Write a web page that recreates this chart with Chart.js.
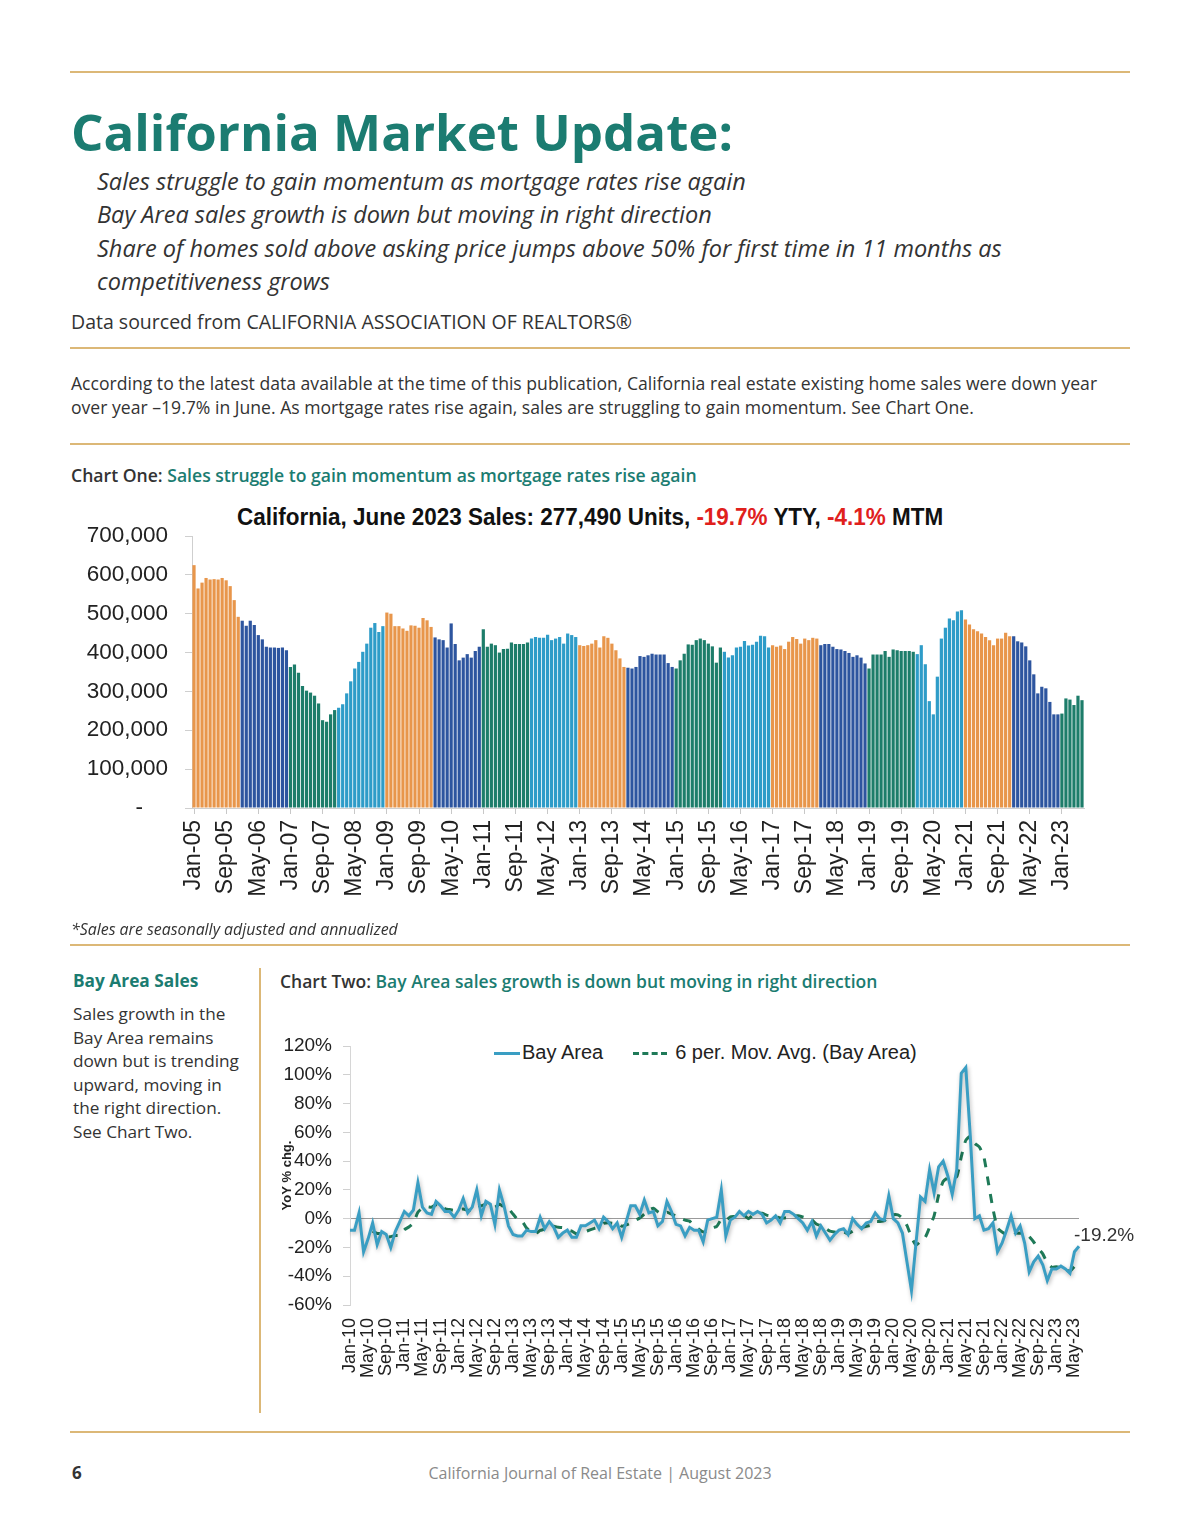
<!DOCTYPE html>
<html>
<head>
<meta charset="utf-8">
<script src="https://cdn.jsdelivr.net/npm/chart.js@4.4.0/dist/chart.umd.min.js"></script>
<style>
  body { margin: 0; width: 1200px; height: 1535px; position: relative; background: #fff;
         font-family: "Open Sans", sans-serif; color: #333; overflow: hidden; }
  .rule { position: absolute; left: 70px; width: 1060px; height: 0; border-top: 2px solid #dcb877; }
  .abs { position: absolute; white-space: nowrap; }
  .teal { color: #1b7c71; }
  .title { left: 71px; top: 101px; font-size: 51px; line-height: 60px; font-weight: 700; color: #1b7c71; }
  .subs { left: 97px; top: 165px; font-size: 23.5px; line-height: 33.3px; font-style: italic; color: #333; }
  .chartbox { position: absolute; }
  .ctitle { position: absolute; left: 237px; top: 503px; font-family: "Liberation Sans", sans-serif; font-weight: 700;
            font-size: 23px; line-height: 28px; color: #111; transform-origin: 0 0; white-space: nowrap; }
  .red { color: #e0201c; }
  .legend { position: absolute; left: 494px; top: 1040px; font-family: "Liberation Sans", sans-serif; font-size: 20px;
            line-height: 24px; color: #222; white-space: nowrap; }
  .sw { display: inline-block; width: 26px; height: 0; vertical-align: middle; margin-right: 2px; }
</style>
</head>
<body>
<div class="rule" style="top:71px"></div>
<div class="abs title">California Market Update:</div>
<div class="abs subs">Sales struggle to gain momentum as mortgage rates rise again<br>Bay Area sales growth is down but moving in right direction<br>Share of homes sold above asking price jumps above 50% for first time in 11 months as<br>competitiveness grows</div>
<div class="abs" style="left:71px;top:309px;font-size:19.5px;line-height:26px">Data sourced from CALIFORNIA ASSOCIATION OF REALTORS®</div>
<div class="rule" style="top:347px"></div>
<div class="abs" style="left:71px;top:371px;font-size:17.6px;line-height:24px">According to the latest data available at the time of this publication, California real estate existing home sales were down year<br>over year –19.7% in June. As mortgage rates rise again, sales are struggling to gain momentum. See Chart One.</div>
<div class="rule" style="top:443px"></div>
<div class="abs" style="left:71px;top:463px;font-size:17.6px;line-height:24px;font-weight:600">Chart One: <span class="teal">Sales struggle to gain momentum as mortgage rates rise again</span></div>

<div class="ctitle" id="salesTitle">California, June 2023 Sales: 277,490 Units, <span class="red">-19.7%</span> YTY, <span class="red">-4.1%</span> MTM</div>
<div class="chartbox" style="left:70px;top:500px;width:1030px;height:420px"><canvas id="salesChart"></canvas></div>

<div class="abs" style="left:71px;top:919px;font-size:15.9px;line-height:20px;font-style:italic">*Sales are seasonally adjusted and annualized</div>
<div class="rule" style="top:944px"></div>

<div class="abs teal" style="left:73px;top:969px;font-size:17.3px;line-height:24px;font-weight:700">Bay Area Sales</div>
<div class="abs" style="left:73px;top:1002px;font-size:17.2px;line-height:23.6px">Sales growth in the<br>Bay Area remains<br>down but is trending<br>upward, moving in<br>the right direction.<br>See Chart Two.</div>
<div style="position:absolute;left:259px;top:968px;width:0;height:445px;border-left:2px solid #dcb877"></div>

<div class="abs" style="left:280px;top:969px;font-size:17.5px;line-height:24px;font-weight:600">Chart Two: <span class="teal">Bay Area sales growth is down but moving in right direction</span></div>
<div class="legend"><span class="sw" style="border-top:3px solid #3a9ec3"></span>Bay Area<span style="display:inline-block;width:30px"></span><span class="sw" style="border-top:3px dashed #1f7a58;width:34px;margin-right:8px"></span>6 per. Mov. Avg. (Bay Area)</div>
<div class="chartbox" style="left:280px;top:1020px;width:860px;height:392px"><canvas id="bayChart"></canvas></div>

<div class="rule" style="top:1431px"></div>
<div class="abs" style="left:72px;top:1461px;font-size:17px;line-height:24px;font-weight:700">6</div>
<div class="abs" style="left:0;width:1200px;text-align:center;top:1461px;font-size:16px;line-height:24px;color:#8a8a8a">California Journal of Real Estate | August 2023</div>

<script>
  const MONTHS = ['Jan','Feb','Mar','Apr','May','Jun','Jul','Aug','Sep','Oct','Nov','Dec'];
  // one colour per calendar year, repeating
  const YEAR_COLORS = ['#e8964b', '#2d559f', '#1d7d6a', '#2e9cc8'];

  // -----Chart One: California existing home sales (SAAR), Jan-05 .. Jun-23
  const salesUnits = [
    625000, 565000, 580000, 592000, 588000, 589000, 588000, 592000, 586000, 571000, 535000, 492000, // 2005
    482000, 469000, 482000, 471000, 445000, 434000, 415000, 413000, 413000, 412000, 413000, 406000, // 2006
    363000, 369000, 348000, 314000, 302000, 297000, 289000, 269000, 226000, 222000, 241000, 252000, // 2007
    258000, 267000, 295000, 326000, 359000, 376000, 402000, 423000, 464000, 476000, 453000, 468000, // 2008
    503000, 500000, 468000, 468000, 462000, 456000, 470000, 469000, 464000, 489000, 483000, 466000, // 2009
    439000, 434000, 432000, 413000, 475000, 422000, 380000, 387000, 396000, 387000, 404000, 415000, // 2010
    460000, 415000, 423000, 419000, 400000, 409000, 410000, 426000, 422000, 422000, 422000, 426000, // 2011
    436000, 440000, 438000, 438000, 446000, 432000, 436000, 440000, 423000, 449000, 445000, 440000, // 2012
    419000, 417000, 419000, 423000, 432000, 413000, 442000, 438000, 423000, 406000, 385000, 363000, // 2013
    361000, 359000, 363000, 391000, 389000, 393000, 397000, 395000, 395000, 395000, 373000, 363000, // 2014
    359000, 380000, 397000, 421000, 420000, 432000, 436000, 432000, 423000, 416000, 374000, 413000, // 2015
    402000, 387000, 393000, 413000, 415000, 430000, 418000, 420000, 428000, 443000, 442000, 413000, // 2016
    419000, 415000, 418000, 409000, 428000, 440000, 435000, 423000, 436000, 432000, 438000, 436000, // 2017
    419000, 422000, 422000, 415000, 409000, 408000, 404000, 399000, 389000, 393000, 387000, 372000, // 2018
    359000, 395000, 395000, 395000, 404000, 389000, 408000, 406000, 404000, 404000, 404000, 402000, // 2019
    396000, 419000, 370000, 275000, 241000, 338000, 436000, 464000, 488000, 483000, 506000, 509000, // 2020
    485000, 472000, 460000, 455000, 449000, 440000, 432000, 419000, 436000, 436000, 451000, 442000, // 2021
    442000, 429000, 426000, 416000, 380000, 344000, 295000, 312000, 308000, 273000, 241000, 241000, // 2022
    243000, 282000, 279000, 265000, 289000, 277490                                                  // 2023
  ];
  const salesYTicks = [0, 100000, 200000, 300000, 400000, 500000, 600000, 700000];

  // -----Chart Two: Bay Area sales, YoY % change, Jan-10 .. Jun-23
  const bayArea = [
    -8, -8, 4, -23, -14, -3, -18, -9, -11, -20, -9, -2,   // 2010
    5, 2, 6, 25, 8, 4, 3, 12, 9, 5, 5, 1,                 // 2011
    6, 14, 4, 8, 20, 2, 12, 10, -4, 20, 9, -5,            // 2012
    -11, -12, -12, -8, -9, -9, 1, -7, -2, -6, -13, -10,   // 2013
    -8, -13, -13, -5, -5, -3, -1, -7, 1, -2, -7, -3,      // 2014
    -13, -2, 9, 9, 3, 13, 4, 5, -5, -2, 12, 5,            // 2015
    -4, -5, -12, -6, -8, -8, -16, -1, 0, 1, 20, -12,      // 2016
    -1, 1, 5, 2, 5, 3, 5, 3, -3, -1, 2, -3,               // 2017
    5, 5, 3, 0, -3, -8, -2, -12, -5, -10, -15, -11,       // 2018
    -8, -7, -11, 0, -4, -7, -3, -2, 4, 0, -1, 16,         // 2019
    0, -3, -10, -30, -50, -17, 15, 12, 34, 18, 36, 40,    // 2020
    30, 17, 34, 101, 105, 57, 0, 2, -8, -7, -3, -23,      // 2021
    -17, -8, 2, -10, -5, -17, -37, -30, -26, -32, -43, -35, // 2022
    -35, -33, -35, -38, -23, -19.2                        // 2023
  ];
  const bayMovAvg = [
    null, null, null, null, null, -8.7, -10.3, -10.5, -13, -12.5, -11.7, -11.5,
    -7.7, -5.8, -3, 4.5, 7.3, 8.3, 8, 9.7, 10.2, 6.8, 6.3, 5.8,
    6.3, 6.7, 5.8, 6.3, 8.8, 9, 10, 9.3, 8, 10, 8.2, 7,
    3.2, -0.5, -1.8, -6.5, -9.5, -10.2, -8.2, -7.3, -5.7, -5.3, -6, -6.2,
    -7.7, -8.7, -10.5, -10.3, -9, -7.8, -6.7, -5.7, -3.3, -2.8, -3.2, -3.2,
    -5.2, -4.3, -3, -1.2, 0.5, 3.2, 6, 7.2, 4.8, 3, 4.5, 3.2,
    1.8, 0.2, -1, -1.7, -5, -7.2, -9.2, -8.5, -6.5, -5.3, -0.7, -1.3,
    1.2, 1.5, 2.3, 2.5, 0, 2.5, 3.5, 3.8, 2.5, 2, 1.5, 0.5,
    0.5, 0.8, 1.8, 2, 1.2, 0.3, -0.8, -3.7, -5, -6.7, -8.7, -9.2,
    -10.2, -9.3, -10.3, -8.7, -6.8, -6.2, -5.3, -4.5, -2, -2, -1.5, 2.3,
    2.8, 2.7, 0.3, -4.7, -12.8, -18.3, -15.8, -13.3, -6, 2, 16.3, 25.8,
    28.3, 29.2, 29.2, 43, 54.5, 57.3, 52.3, 49.8, 42.8, 24.8, 6.8, -6.5,
    -9.3, -11, -9.3, -9.8, -10.2, -9.2, -12.5, -16.2, -20.8, -24.5, -30.8, -33.8,
    -33.5, -34, -35.5, -36.5, -33.2, -30.5
  ];
  const bayYTicks = [-60, -40, -20, 0, 20, 40, 60, 80, 100, 120];

  function monthLabels(firstYear, count) {
    const out = [];
    for (let i = 0; i < count; i++) {
      const yy = String((firstYear + Math.floor(i / 12)) % 100).padStart(2, '0');
      out.push(MONTHS[i % 12] + '-' + yy);
    }
    return out;
  }
  const salesLabels = monthLabels(2005, salesUnits.length);
  const bayLabels = monthLabels(2010, bayArea.length);
  const barColors = salesUnits.map((v, i) => YEAR_COLORS[Math.floor(i / 12) % YEAR_COLORS.length]);

  Chart.defaults.font.family = '"Liberation Sans", sans-serif';
  Chart.defaults.color = '#222';

  // fit the chart one heading to its width in the reference
  const st = document.getElementById('salesTitle');
  st.style.transform = 'scaleX(' + (706 / st.scrollWidth) + ')';

  new Chart(document.getElementById('salesChart'), {
    type: 'bar',
    data: {
      labels: salesLabels,
      datasets: [{
        data: salesUnits,
        backgroundColor: barColors,
        barPercentage: 0.8,
        categoryPercentage: 1
      }]
    },
    options: {
      responsive: true,
      maintainAspectRatio: false,
      animation: false,
      layout: { padding: { top: 36, right: 16, left: 0, bottom: 0 } },
      plugins: { legend: { display: false }, tooltip: { enabled: false } },
      scales: {
        x: {
          grid: { drawOnChartArea: false, tickLength: 6, color: '#c8c8c8', offset: false },
          border: { color: '#cfcfcf' },
          ticks: {
            autoSkip: false, maxRotation: 90, minRotation: 90, padding: 6,
            font: { size: 23 }, color: '#222',
            callback: (v, i) => i % 8 === 0 ? salesLabels[i] : null
          },
          afterFit: s => { s.height = 112; }
        },
        y: {
          min: 0, max: 700000,
          afterBuildTicks: s => { s.ticks = salesYTicks.map(v => ({ value: v })); },
          grid: { drawOnChartArea: false, tickLength: 7, color: '#cfcfcf' },
          border: { color: '#cfcfcf' },
          ticks: {
            padding: 17, font: { size: 22.5 }, color: '#222',
            callback: v => v === 0 ? '-    ' : v.toLocaleString('en-US')
          },
          afterFit: s => { s.width = 122; }
        }
      }
    }
  });

  // soft drop shadow under the Bay Area line, as in the source chart
  const lineShadow = {
    id: 'lineShadow',
    beforeDatasetDraw(chart, args) {
      if (args.index !== 0) return;
      const ctx = chart.ctx;
      ctx.save();
      ctx.shadowColor = 'rgba(0,0,0,0.28)';
      ctx.shadowBlur = 4;
      ctx.shadowOffsetX = 1;
      ctx.shadowOffsetY = 2;
    },
    afterDatasetDraw(chart, args) {
      if (args.index === 0) chart.ctx.restore();
    }
  };

  // label for the latest Bay Area value
  const endLabel = {
    id: 'endLabel',
    afterDatasetsDraw(chart) {
      const pts = chart.getDatasetMeta(0).data;
      const last = pts[pts.length - 1];
      const ctx = chart.ctx;
      ctx.save();
      ctx.font = '19px "Liberation Sans", sans-serif';
      ctx.fillStyle = '#333';
      ctx.textAlign = 'left';
      ctx.textBaseline = 'middle';
      ctx.fillText(bayArea[bayArea.length - 1].toFixed(1) + '%', last.x - 5, last.y - 11);
      ctx.restore();
    }
  };

  new Chart(document.getElementById('bayChart'), {
    type: 'line',
    data: {
      labels: bayLabels,
      datasets: [
        { label: 'Bay Area', data: bayArea, borderColor: '#3a9ec3', borderWidth: 3, pointRadius: 0, tension: 0 },
        { label: '6 per. Mov. Avg. (Bay Area)', data: bayMovAvg, borderColor: '#1f7a58', borderWidth: 3,
          borderDash: [9, 9], pointRadius: 0, tension: 0.2 }
      ]
    },
    options: {
      responsive: true,
      maintainAspectRatio: false,
      animation: false,
      layout: { padding: { top: 26, right: 61, left: 0, bottom: 0 } },
      plugins: { legend: { display: false }, tooltip: { enabled: false } },
      scales: {
        x: {
          grid: { display: false },
          border: { display: false },
          ticks: {
            autoSkip: false, maxRotation: 90, minRotation: 90, padding: 5,
            font: { size: 18 }, color: '#222',
            callback: (v, i) => i % 4 === 0 ? bayLabels[i] : null
          },
          afterFit: s => { s.height = 107; }
        },
        y: {
          min: -60, max: 120,
          afterBuildTicks: s => { s.ticks = bayYTicks.map(v => ({ value: v })); },
          grid: {
            tickLength: 7, tickColor: '#d0d0d0',
            color: c => c.tick && c.tick.value === 0 ? '#9a9a9a' : 'transparent'
          },
          border: { color: '#d6d6d6' },
          title: { display: true, text: 'YoY % chg.', font: { size: 13, weight: 'bold' }, color: '#222', padding: 0 },
          ticks: { padding: 11, font: { size: 19 }, color: '#222', callback: v => v + '%' },
          afterFit: s => { s.width = 70; }
        }
      }
    },
    plugins: [lineShadow, endLabel]
  });
</script>
</body>
</html>
